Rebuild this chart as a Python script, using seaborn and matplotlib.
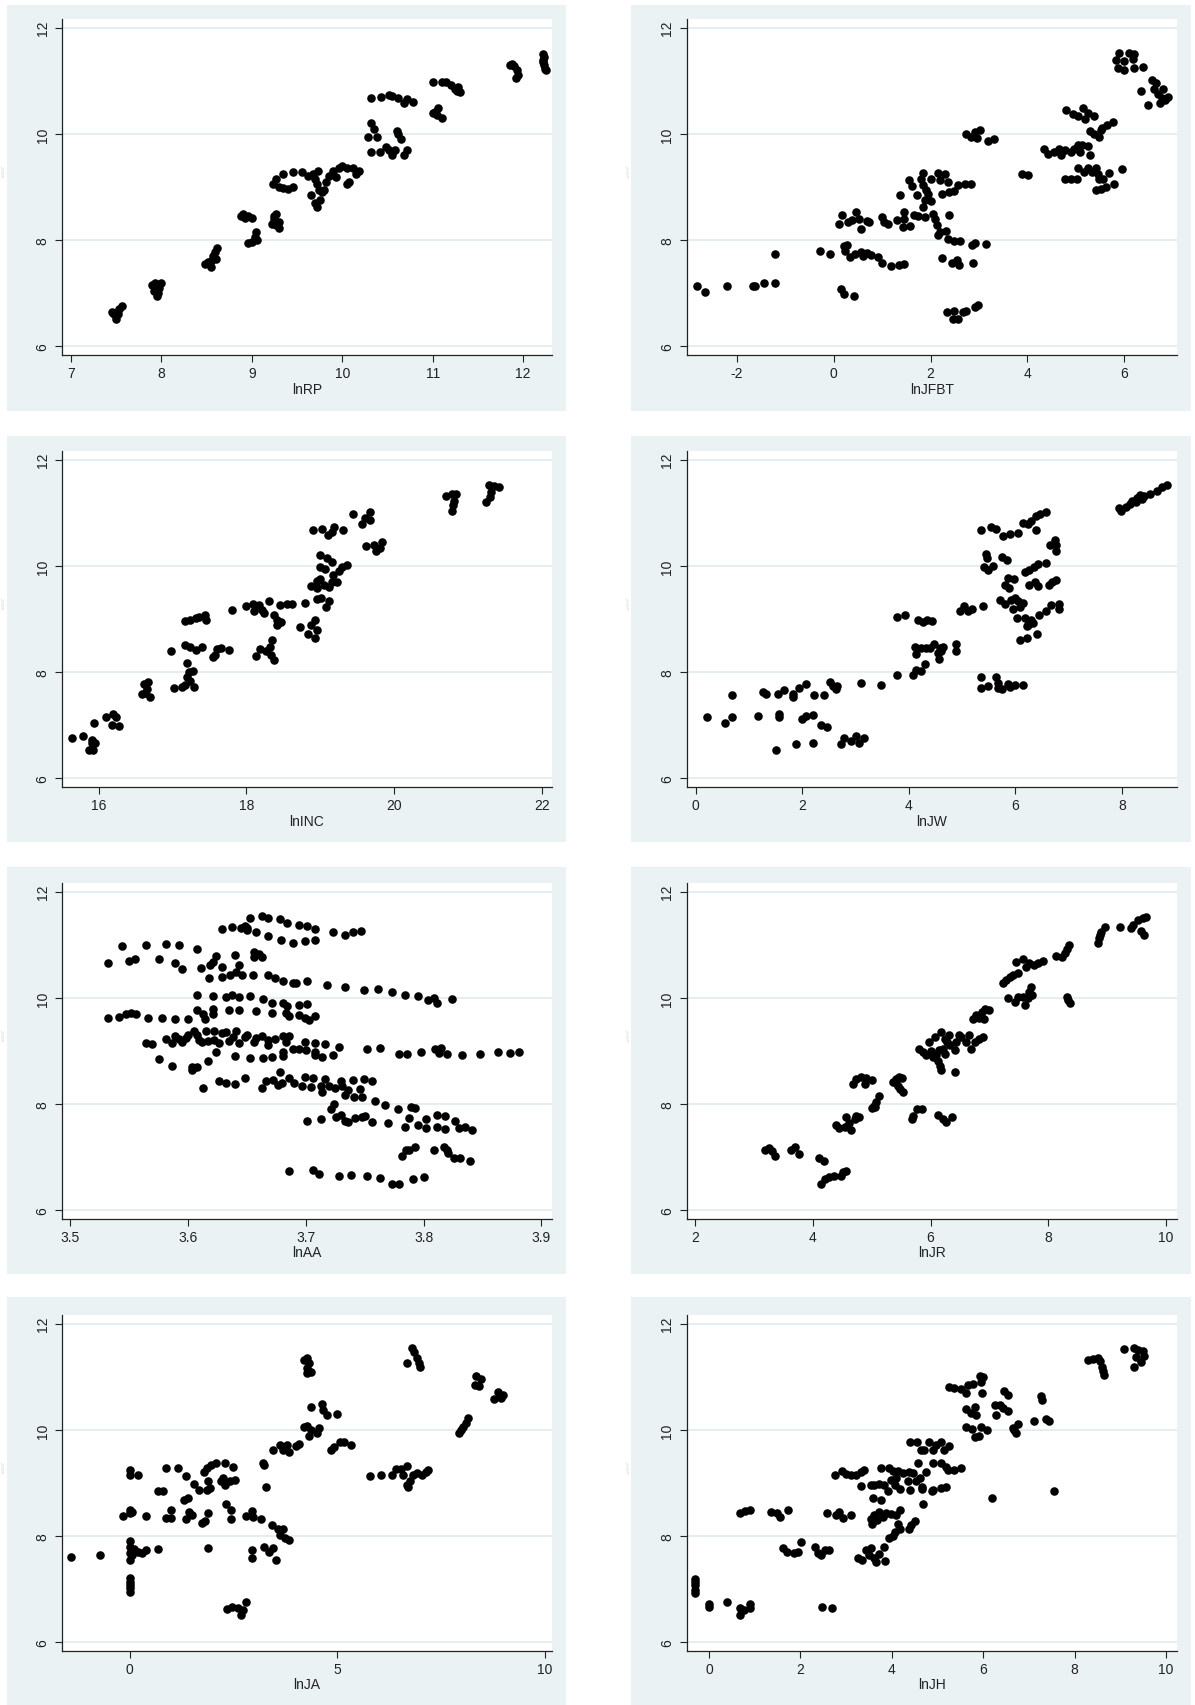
import matplotlib
matplotlib.use("Agg")
import matplotlib.pyplot as plt
from matplotlib.patches import Rectangle
import pandas as pd
import seaborn as sns

# ---------------------------------------------------------------------------
# Observations: (regressor, lnGDP) pairs for each of the eight panels
# ---------------------------------------------------------------------------
lnRP_pts = [
    (7.45, 6.65), (7.48, 6.60), (7.50, 6.52), (7.52, 6.60), (7.53, 6.70), (7.56, 6.75), (7.46, 6.63),
    (7.90, 7.15), (7.92, 7.05), (7.95, 6.95), (7.97, 7.10), (8.00, 7.20), (7.93, 7.20), (7.96, 7.00),
    (8.48, 7.55), (8.52, 7.58), (8.55, 7.60), (8.57, 7.70), (8.59, 7.78), (8.62, 7.85), (8.60, 7.65), (8.55, 7.50),
    (8.88, 8.45), (8.92, 8.42), (8.96, 8.45), (9.00, 8.42), (8.90, 8.50),
    (8.96, 7.95), (9.00, 7.97), (9.03, 8.05), (9.05, 8.15), (9.06, 8.00),
    (9.22, 8.30), (9.25, 8.40), (9.27, 8.50), (9.30, 8.35), (9.30, 8.22), (9.27, 8.28), (9.25, 8.45),
    (9.23, 9.05), (9.27, 9.15), (9.30, 9.00), (9.35, 8.98), (9.40, 8.97), (9.45, 9.00), (9.35, 9.25),
    (9.45, 9.28), (9.55, 9.28),
    (9.62, 9.20), (9.68, 9.25), (9.70, 9.15), (9.72, 9.05), (9.74, 8.95), (9.70, 8.70), (9.72, 8.62),
    (9.75, 8.75), (9.65, 8.85), (9.78, 8.90), (9.80, 8.95), (9.82, 9.10), (9.73, 9.30), (9.85, 9.20),
    (9.90, 9.30), (9.93, 9.18), (9.96, 9.35), (10.00, 9.40), (10.05, 9.35), (10.05, 9.05), (10.08, 9.10),
    (10.12, 9.35), (10.15, 9.25), (10.18, 9.30),
    (10.28, 9.95), (10.32, 10.20), (10.35, 10.10), (10.38, 9.95), (10.32, 9.65), (10.42, 9.65),
    (10.48, 9.75), (10.52, 9.70), (10.55, 9.60), (10.58, 9.70), (10.62, 10.00), (10.60, 10.05),
    (10.65, 9.90), (10.68, 9.60), (10.72, 9.70),
    (10.32, 10.67), (10.43, 10.70), (10.52, 10.73), (10.55, 10.72), (10.62, 10.68), (10.68, 10.58),
    (10.72, 10.65), (10.78, 10.60),
    (11.00, 10.40), (11.03, 10.42), (11.06, 10.48), (11.10, 10.30), (11.05, 10.35),
    (11.00, 10.97), (11.10, 10.98), (11.15, 10.98), (11.20, 10.92), (11.25, 10.85), (11.27, 10.80),
    (11.30, 10.78), (11.28, 10.88),
    (11.85, 11.30), (11.90, 11.28), (11.93, 11.20), (11.94, 11.10), (11.92, 11.05), (11.88, 11.32),
    (12.22, 11.50), (12.23, 11.45), (12.22, 11.35), (12.23, 11.30), (12.24, 11.22), (12.25, 11.20), (12.22, 11.40),
]

lnJFBT_pts = [
    (-2.82, 7.13), (-2.66, 7.02), (-2.21, 7.13), (-1.66, 7.13), (-1.62, 7.14), (-1.43, 7.19), (-1.21, 7.20),
    (-1.21, 7.74), (-0.29, 7.79), (-0.07, 7.73),
    (0.16, 7.08), (0.21, 6.99), (0.41, 6.94),
    (0.10, 8.31), (0.18, 8.47), (0.29, 8.35), (0.46, 8.52), (0.52, 8.40), (0.56, 8.21), (0.68, 8.36),
    (0.73, 8.35), (0.37, 8.37),
    (0.21, 7.88), (0.27, 7.91), (0.23, 7.79), (0.33, 7.68), (0.45, 7.73), (0.56, 7.77), (0.68, 7.75),
    (0.77, 7.71), (0.91, 7.69), (0.99, 7.57), (1.19, 7.52), (1.34, 7.54), (1.46, 7.55), (0.60, 7.70),
    (0.99, 8.43), (1.03, 8.35), (1.13, 8.31), (1.30, 8.37), (1.46, 8.53), (1.46, 8.40), (1.44, 8.25),
    (1.58, 8.26), (1.66, 8.47), (1.74, 8.45), (1.88, 8.43),
    (1.37, 8.84), (1.55, 9.14), (1.62, 9.01), (1.72, 8.84), (1.80, 9.16), (1.84, 9.26), (1.85, 9.03),
    (1.90, 8.94), (1.95, 8.87), (1.89, 8.75), (1.85, 8.62), (2.01, 8.73), (2.05, 8.50), (2.09, 8.39),
    (2.13, 8.28), (2.15, 8.09), (2.20, 8.15), (2.32, 8.17), (2.24, 8.87), (2.20, 9.14), (2.01, 9.16),
    (2.16, 9.27), (2.30, 9.24), (2.36, 9.09), (2.38, 8.90), (2.48, 8.92), (2.57, 9.03), (2.71, 9.05),
    (2.83, 9.06), (2.38, 8.47), (2.36, 8.03), (2.48, 7.99), (2.60, 7.99), (2.85, 7.91), (2.92, 7.94),
    (3.14, 7.93), (2.23, 7.66), (2.44, 7.57), (2.55, 7.62), (2.59, 7.54), (2.87, 7.57),
    (2.34, 6.64), (2.48, 6.67), (2.46, 6.52), (2.57, 6.52), (2.67, 6.64), (2.73, 6.67), (2.91, 6.74), (2.99, 6.77),
    (2.73, 9.99), (2.83, 9.94), (2.91, 10.04), (3.02, 10.07), (2.95, 9.92), (3.18, 9.86), (3.32, 9.90),
    (3.88, 9.24), (4.02, 9.22),
    (4.35, 9.71), (4.43, 9.63), (4.55, 9.65), (4.66, 9.72), (4.70, 9.61), (4.78, 9.69), (4.90, 9.65),
    (4.96, 9.71), (5.05, 9.79), (5.13, 9.79), (5.09, 9.66), (5.25, 9.77), (5.29, 9.60),
    (4.78, 9.16), (4.90, 9.16), (5.02, 9.16), (5.04, 9.36), (5.17, 9.28), (5.25, 9.36), (5.33, 9.28),
    (5.41, 9.36), (5.45, 9.25), (5.48, 9.16), (5.56, 9.16), (5.68, 9.27), (5.41, 8.94), (5.52, 8.96),
    (5.63, 9.00), (5.78, 9.06), (5.95, 9.33),
    (4.80, 10.45), (4.94, 10.38), (5.04, 10.34), (5.15, 10.49), (5.25, 10.40), (5.20, 10.29), (5.37, 10.33),
    (5.29, 10.05), (5.37, 9.99), (5.48, 9.94), (5.52, 10.07), (5.55, 10.11), (5.64, 10.16), (5.76, 10.23),
    (5.84, 11.39), (5.89, 11.53), (5.88, 11.25), (6.00, 11.37), (6.00, 11.20), (6.09, 11.52), (6.21, 11.50),
    (6.19, 11.41), (6.21, 11.25), (6.38, 11.26),
    (6.34, 10.80), (6.50, 10.55), (6.58, 11.01), (6.62, 10.85), (6.66, 10.96), (6.70, 10.76), (6.77, 10.67),
    (6.80, 10.85), (6.85, 10.64), (6.90, 10.69), (6.73, 10.59),
]

lnINC_pts = [
    (15.63, 6.76), (15.79, 6.79), (15.93, 7.04), (15.86, 6.53), (15.92, 6.53), (15.90, 6.67), (15.95, 6.67), (15.91, 6.73),
    (16.10, 7.15), (16.19, 7.21), (16.23, 7.15), (16.18, 7.01), (16.27, 6.98),
    (16.61, 7.78), (16.66, 7.81), (16.63, 7.61), (16.69, 7.54), (16.59, 7.58), (16.65, 7.69),
    (17.02, 7.70), (17.13, 7.71), (17.17, 7.76), (17.29, 7.71), (17.19, 7.90), (17.22, 8.01), (17.28, 8.03),
    (17.19, 8.17), (17.24, 7.84),
    (16.98, 8.39), (17.17, 8.51), (17.24, 8.48), (17.31, 8.42), (17.40, 8.47), (17.55, 8.28), (17.60, 8.44),
    (17.66, 8.45), (17.76, 8.41), (17.58, 8.33),
    (17.17, 8.96), (17.24, 8.98), (17.31, 9.01), (17.35, 9.04), (17.44, 9.08), (17.45, 8.98),
    (17.81, 9.17), (17.99, 9.24), (18.09, 9.28), (18.10, 9.15), (18.17, 9.26), (18.21, 9.17), (18.24, 9.11),
    (18.30, 9.33), (18.37, 9.08), (18.42, 8.98), (18.41, 8.89), (18.47, 8.95), (18.46, 9.26), (18.55, 9.28),
    (18.62, 9.28),
    (18.13, 8.31), (18.18, 8.44), (18.27, 8.39), (18.32, 8.48), (18.34, 8.61), (18.37, 8.23), (18.33, 8.33),
    (18.72, 8.85), (18.83, 8.72), (18.87, 8.89), (18.93, 8.98), (18.95, 8.79), (18.93, 8.65), (18.79, 9.31),
    (18.87, 9.63), (18.95, 9.71), (18.95, 9.37), (19.01, 9.39), (19.08, 9.23), (19.12, 9.33), (18.96, 9.58),
    (19.00, 9.76), (19.05, 9.64), (19.12, 9.61), (19.16, 9.70), (19.22, 9.70), (19.17, 9.83), (19.25, 9.90),
    (19.29, 9.98), (19.36, 10.02), (19.00, 9.98), (19.06, 9.95), (19.00, 10.21), (19.09, 10.15), (19.16, 10.08),
    (18.90, 10.67), (19.03, 10.70), (19.11, 10.58), (19.16, 10.63), (19.19, 10.73), (19.31, 10.68),
    (19.45, 10.97), (19.56, 10.79), (19.61, 10.90), (19.68, 11.01), (19.67, 10.86),
    (19.62, 10.38), (19.73, 10.40), (19.75, 10.29), (19.81, 10.33), (19.83, 10.45),
    (20.70, 11.31), (20.78, 11.36), (20.84, 11.36), (20.81, 11.23), (20.80, 11.14), (20.78, 11.03),
    (21.28, 11.53), (21.35, 11.51), (21.42, 11.49), (21.32, 11.39), (21.30, 11.29), (21.25, 11.20),
]

lnJW_pts = [
    (0.22, 7.15), (0.56, 7.04), (0.69, 7.15), (0.69, 7.56),
    (1.18, 7.18), (1.26, 7.63), (1.33, 7.58), (1.51, 6.53), (1.55, 7.59), (1.56, 7.21), (1.56, 7.16),
    (1.66, 7.67), (1.83, 7.58), (1.83, 7.53), (1.88, 6.64), (1.94, 7.70), (1.99, 7.11), (2.08, 7.78),
    (2.08, 7.17), (2.21, 7.20), (2.21, 6.66), (2.23, 7.56), (2.36, 7.01), (2.41, 7.56), (2.46, 6.96),
    (2.52, 7.81), (2.58, 7.73), (2.66, 7.74), (2.64, 7.69), (2.72, 6.64), (2.79, 6.76), (2.91, 6.70),
    (3.01, 6.79), (3.07, 6.67), (3.16, 6.75), (3.11, 7.79), (3.48, 7.75),
    (3.77, 7.94), (3.77, 9.04), (3.93, 9.08), (4.08, 7.94), (4.14, 8.04), (4.22, 8.03), (4.30, 8.16),
    (4.11, 8.48), (4.14, 8.34), (4.22, 8.45), (4.33, 8.46), (4.39, 8.45), (4.48, 8.53), (4.55, 8.36),
    (4.57, 8.25), (4.61, 8.39), (4.64, 8.48), (4.58, 8.46), (4.88, 8.53), (4.88, 8.39),
    (4.17, 8.99), (4.26, 8.95), (4.34, 8.98), (4.44, 8.97),
    (4.96, 9.16), (5.03, 9.24), (5.11, 9.16), (5.19, 9.19), (5.39, 9.25),
    (5.35, 10.67), (5.55, 10.74), (5.63, 10.70), (5.77, 10.56), (5.89, 10.61), (6.05, 10.62),
    (5.44, 10.23), (5.47, 10.15), (5.41, 9.98), (5.49, 9.93), (5.57, 10.00), (5.74, 10.17), (5.85, 10.12),
    (5.81, 9.64), (5.86, 9.78), (5.97, 9.76), (5.88, 9.59),
    (5.71, 9.36), (5.80, 9.29), (5.91, 9.36), (5.99, 9.39), (6.05, 9.33), (6.08, 9.23), (5.96, 9.19),
    (6.14, 9.31), (6.03, 9.01), (6.17, 9.01), (6.24, 8.89), (6.33, 8.92), (6.30, 8.98), (6.21, 8.86),
    (6.41, 8.72), (6.09, 8.61), (6.22, 8.65), (6.44, 9.08), (6.58, 9.15), (6.66, 9.26), (6.82, 9.28),
    (6.82, 9.19),
    (6.17, 9.89), (6.26, 9.93), (6.34, 9.98), (6.42, 10.04), (6.57, 10.06), (6.26, 9.64), (6.36, 9.69),
    (6.42, 9.63), (6.63, 9.64), (6.69, 9.70), (6.77, 9.73),
    (6.64, 10.40), (6.74, 10.48), (6.77, 10.39), (6.77, 10.29),
    (6.14, 10.81), (6.24, 10.78), (6.30, 10.84), (6.38, 10.94), (6.46, 10.98), (6.57, 11.01), (6.38, 10.67),
    (5.36, 7.90), (5.36, 7.70), (5.49, 7.73), (5.64, 7.91), (5.67, 7.79), (5.67, 7.70), (5.74, 7.69),
    (5.86, 7.78), (5.89, 7.71), (5.99, 7.75), (6.14, 7.76),
    (7.94, 11.09), (7.98, 11.03), (8.07, 11.11), (8.14, 11.17), (8.19, 11.23), (8.26, 11.20), (8.28, 11.28),
    (8.34, 11.34), (8.42, 11.32), (8.52, 11.36), (8.66, 11.42), (8.74, 11.48), (8.84, 11.53), (8.38, 11.26),
]

lnAA_pts = [
    (3.629, 11.30), (3.637, 11.34), (3.645, 11.31), (3.648, 11.36), (3.650, 11.32), (3.650, 11.28),
    (3.653, 11.51), (3.658, 11.25), (3.663, 11.54), (3.668, 11.50), (3.668, 11.16), (3.678, 11.48),
    (3.679, 11.09), (3.684, 11.42), (3.689, 11.03), (3.694, 11.37), (3.699, 11.08), (3.701, 11.36),
    (3.708, 11.30), (3.708, 11.09), (3.723, 11.25), (3.733, 11.19), (3.740, 11.25), (3.747, 11.26),
    (3.532, 10.66), (3.544, 10.97), (3.550, 10.70), (3.555, 10.74), (3.564, 10.99), (3.575, 10.73),
    (3.581, 11.01), (3.589, 10.66), (3.592, 10.99), (3.595, 10.55), (3.608, 10.92), (3.611, 10.57),
    (3.618, 10.38), (3.619, 10.62), (3.621, 10.68), (3.624, 10.79), (3.629, 10.40), (3.629, 10.59),
    (3.636, 10.44), (3.640, 10.81), (3.641, 10.49), (3.643, 10.62), (3.646, 10.44), (3.655, 10.44),
    (3.656, 10.86), (3.656, 10.77), (3.660, 10.82), (3.663, 10.77), (3.668, 10.44), (3.674, 10.38),
    (3.681, 10.31), (3.689, 10.28), (3.692, 10.29), (3.701, 10.31), (3.718, 10.24), (3.733, 10.20),
    (3.749, 10.15), (3.761, 10.17), (3.773, 10.11), (3.784, 10.06), (3.795, 10.03), (3.804, 9.96),
    (3.809, 9.99), (3.811, 9.91), (3.824, 9.97),
    (3.608, 10.05), (3.621, 10.03), (3.632, 10.02), (3.637, 10.06), (3.643, 10.01), (3.653, 10.03),
    (3.664, 9.98), (3.671, 9.91), (3.681, 9.90), (3.684, 9.85), (3.694, 9.87), (3.701, 9.89),
    (3.532, 9.63), (3.541, 9.64), (3.547, 9.70), (3.552, 9.72), (3.556, 9.69), (3.566, 9.63),
    (3.578, 9.62), (3.589, 9.61), (3.600, 9.60), (3.608, 9.77), (3.613, 9.69), (3.614, 9.61),
    (3.621, 9.79), (3.621, 9.70), (3.635, 9.77), (3.643, 9.77), (3.658, 9.76), (3.671, 9.72),
    (3.683, 9.72), (3.686, 9.66), (3.694, 9.67), (3.699, 9.63), (3.703, 9.59), (3.708, 9.66),
    (3.564, 9.16), (3.569, 9.14), (3.581, 9.23), (3.586, 9.15), (3.589, 9.28), (3.592, 9.23),
    (3.595, 9.17), (3.598, 9.25), (3.600, 9.31), (3.605, 9.37), (3.608, 9.31), (3.609, 9.20),
    (3.612, 9.17), (3.615, 9.38), (3.617, 9.19), (3.622, 9.38), (3.622, 9.20), (3.626, 9.16),
    (3.629, 9.33), (3.632, 9.35), (3.635, 9.18), (3.638, 9.26), (3.641, 9.37), (3.643, 9.16),
    (3.648, 9.26), (3.650, 9.31), (3.656, 9.17), (3.658, 9.25), (3.663, 9.28), (3.668, 9.20),
    (3.668, 9.11), (3.674, 9.23), (3.681, 9.28), (3.686, 9.29), (3.683, 9.17), (3.689, 9.03),
    (3.694, 9.03), (3.699, 9.17), (3.700, 9.01), (3.708, 9.15), (3.708, 8.99), (3.708, 8.92),
    (3.714, 8.89), (3.716, 9.14), (3.723, 8.93), (3.728, 9.08), (3.752, 9.04), (3.763, 9.06),
    (3.779, 8.95), (3.786, 8.95), (3.798, 8.98), (3.810, 9.03), (3.815, 9.06), (3.813, 8.97),
    (3.820, 8.95), (3.833, 8.93), (3.848, 8.95), (3.863, 8.98), (3.873, 8.97), (3.881, 8.98),
    (3.575, 8.84), (3.586, 8.71), (3.603, 8.64), (3.603, 8.70), (3.608, 8.70), (3.617, 8.82),
    (3.624, 8.98), (3.640, 8.90), (3.653, 8.86), (3.664, 8.87), (3.671, 8.89), (3.681, 8.90), (3.681, 8.99),
    (3.613, 8.30), (3.626, 8.43), (3.632, 8.40), (3.640, 8.38), (3.648, 8.50), (3.663, 8.30),
    (3.666, 8.43), (3.672, 8.46), (3.676, 8.36), (3.678, 8.60), (3.680, 8.39), (3.686, 8.50),
    (3.690, 8.39), (3.697, 8.34), (3.699, 8.51), (3.704, 8.32), (3.706, 8.50), (3.713, 8.35),
    (3.714, 8.23), (3.716, 8.48), (3.720, 8.34), (3.725, 8.31), (3.730, 8.43), (3.731, 8.34),
    (3.733, 8.18), (3.736, 8.26), (3.740, 8.45), (3.741, 8.14), (3.746, 8.29), (3.748, 8.13),
    (3.749, 8.48), (3.756, 8.43), (3.759, 8.06), (3.767, 7.99), (3.778, 7.91), (3.789, 7.94), (3.793, 7.92),
    (3.724, 8.01), (3.721, 7.90), (3.726, 7.75), (3.730, 7.80), (3.733, 7.69), (3.736, 7.66),
    (3.742, 7.74), (3.748, 7.75), (3.750, 7.77), (3.756, 7.66), (3.701, 7.68), (3.713, 7.72),
    (3.770, 7.65), (3.784, 7.57), (3.788, 7.74), (3.795, 7.61), (3.802, 7.55), (3.802, 7.72),
    (3.811, 7.79), (3.811, 7.57), (3.818, 7.77), (3.818, 7.53), (3.827, 7.68), (3.830, 7.55),
    (3.835, 7.57), (3.841, 7.52),
    (3.782, 7.02), (3.785, 7.13), (3.788, 7.14), (3.793, 7.19), (3.809, 7.13), (3.817, 7.20),
    (3.820, 7.13), (3.821, 7.08), (3.826, 6.98), (3.831, 6.98), (3.839, 6.92),
    (3.686, 6.74), (3.706, 6.76), (3.711, 6.69), (3.728, 6.64), (3.738, 6.67), (3.752, 6.64),
    (3.763, 6.60), (3.773, 6.50), (3.779, 6.50), (3.791, 6.59), (3.800, 6.62),
]

lnJR_pts = [
    (3.18, 7.14), (3.26, 7.17), (3.31, 7.11), (3.36, 7.02), (3.63, 7.14), (3.69, 7.19), (3.76, 7.06),
    (4.10, 6.99), (4.19, 6.93), (4.14, 6.50), (4.20, 6.59), (4.27, 6.62), (4.35, 6.64), (4.48, 6.65),
    (4.51, 6.72), (4.57, 6.74),
    (4.40, 7.61), (4.45, 7.55), (4.54, 7.57), (4.57, 7.75), (4.62, 7.64), (4.65, 7.52), (4.71, 7.71),
    (4.79, 7.75), (4.73, 7.77),
    (5.00, 7.93), (5.03, 7.97), (5.08, 8.04), (5.12, 8.16), (5.05, 7.94),
    (4.68, 8.38), (4.74, 8.48), (4.82, 8.51), (4.88, 8.38), (4.91, 8.49), (5.00, 8.46),
    (5.36, 8.42), (5.41, 8.48), (5.46, 8.51), (5.52, 8.50), (5.44, 8.35), (5.48, 8.28), (5.53, 8.23), (5.42, 8.40),
    (5.69, 7.71), (5.70, 7.77), (5.77, 7.90), (5.86, 7.90), (6.12, 7.79), (6.21, 7.71), (6.27, 7.66), (6.37, 7.75),
    (5.81, 9.04), (5.87, 8.98), (5.93, 8.92), (5.97, 9.17), (6.01, 9.00), (6.04, 8.89), (6.07, 9.26),
    (6.10, 8.92), (6.12, 8.82), (6.15, 9.01), (6.16, 8.72), (6.17, 8.65), (6.18, 9.36), (6.21, 9.04),
    (6.24, 9.23), (6.25, 8.95), (6.28, 9.17), (6.32, 9.30), (6.33, 9.11), (6.41, 9.01), (6.44, 9.17),
    (6.48, 9.30), (6.52, 9.26), (6.41, 8.60), (6.61, 9.17), (6.66, 9.31), (6.69, 9.04), (6.75, 9.17),
    (6.83, 9.22), (6.89, 9.26),
    (6.72, 9.61), (6.78, 9.67), (6.83, 9.62), (6.88, 9.74), (6.93, 9.79), (7.00, 9.77), (6.90, 9.60),
    (7.23, 10.28), (7.28, 10.33), (7.35, 10.40), (7.40, 10.43), (7.48, 10.46), (7.46, 10.68), (7.57, 10.74),
    (7.63, 10.58), (7.68, 10.65), (7.75, 10.62), (7.82, 10.65), (7.91, 10.69),
    (7.31, 9.99), (7.43, 9.92), (7.48, 10.02), (7.57, 10.02), (7.61, 9.86), (7.65, 9.99), (7.68, 10.11),
    (7.71, 10.21), (7.73, 10.05),
    (8.14, 10.79), (8.23, 10.77), (8.28, 10.84), (8.32, 10.93), (8.36, 10.99),
    (8.32, 10.02), (8.33, 9.96), (8.37, 9.91),
    (8.84, 11.03), (8.86, 11.12), (8.90, 11.25), (8.96, 11.34), (8.88, 11.18),
    (9.22, 11.33), (9.41, 11.32), (9.44, 11.37), (9.52, 11.47), (9.61, 11.51), (9.67, 11.53),
    (9.58, 11.26), (9.63, 11.19),
]

lnJA_pts = [
    (-1.42, 7.60), (-0.72, 7.65),
    (0.00, 7.03), (0.00, 6.95), (0.00, 7.14), (0.00, 7.21), (0.00, 7.08),
    (0.00, 7.91), (0.00, 7.80), (0.00, 7.69), (0.00, 7.55), (0.06, 7.64),
    (-0.15, 8.38), (0.00, 8.49), (0.06, 8.46), (0.00, 8.43),
    (0.00, 9.25), (0.00, 9.16), (0.20, 9.16),
    (0.20, 7.70), (0.39, 7.74), (0.11, 7.75), (0.30, 7.69),
    (0.39, 8.38), (0.67, 7.75), (0.69, 8.85), (0.81, 8.84), (0.88, 9.28), (1.16, 9.29),
    (0.88, 8.35), (0.99, 8.49), (0.99, 8.35),
    (1.30, 8.68), (1.41, 8.72), (1.36, 9.13), (1.36, 8.33), (1.44, 8.46), (1.50, 8.40), (1.55, 8.99),
    (1.67, 8.87), (1.74, 8.24), (1.78, 9.21), (1.82, 8.28), (1.85, 8.87), (1.89, 8.43), (1.89, 7.77),
    (1.94, 8.90), (1.89, 9.03), (1.87, 9.28), (1.96, 9.34), (2.08, 9.38), (2.19, 9.03), (2.24, 9.09),
    (2.29, 8.97), (2.29, 9.38), (2.33, 8.60), (2.41, 9.04), (2.43, 8.49), (2.43, 8.33), (2.48, 9.31),
    (2.54, 9.06),
    (2.35, 6.62), (2.47, 6.67), (2.61, 6.65), (2.69, 6.51), (2.73, 6.60), (2.81, 6.75),
    (2.81, 8.38), (2.94, 8.47), (2.98, 8.36), (2.94, 7.73), (2.94, 7.58), (3.17, 8.33), (3.21, 9.37),
    (3.24, 9.34), (3.29, 8.93), (3.24, 7.80), (3.35, 7.70), (3.43, 8.21), (3.46, 7.77), (3.52, 7.55),
    (3.56, 8.14), (3.61, 8.02), (3.68, 8.13), (3.74, 7.97), (3.83, 7.92),
    (3.46, 9.62), (3.61, 9.72), (3.68, 9.62), (3.80, 9.72), (3.83, 9.59), (4.00, 9.70), (4.07, 9.73),
    (4.19, 10.06), (4.28, 10.08), (4.32, 9.89), (4.37, 10.00), (4.51, 9.94), (4.56, 10.03),
    (4.37, 10.44), (4.63, 10.48), (4.65, 10.38), (4.74, 10.28), (5.00, 10.30),
    (4.19, 11.32), (4.28, 11.35), (4.32, 11.26), (4.28, 11.07), (4.37, 11.09), (4.26, 11.16),
    (4.85, 9.62), (4.91, 9.67), (5.06, 9.78), (5.15, 9.77), (5.34, 9.72),
    (5.78, 9.13), (6.04, 9.15), (6.31, 9.16), (6.41, 9.26), (6.53, 9.26), (6.59, 9.16), (6.69, 9.32),
    (6.67, 8.97), (6.70, 8.93), (6.76, 9.04), (6.82, 9.15), (6.91, 9.18), (7.05, 9.15), (7.13, 9.20),
    (7.19, 9.24),
    (6.69, 11.26), (6.81, 11.54), (6.85, 11.47), (6.92, 11.35), (6.96, 11.26), (7.00, 11.19),
    (7.94, 9.94), (7.98, 10.00), (8.03, 10.06), (8.09, 10.13), (8.15, 10.22),
    (8.35, 11.01), (8.40, 10.82), (8.31, 10.84), (8.46, 10.95),
    (8.77, 10.58), (8.86, 10.72), (8.91, 10.63), (9.00, 10.66), (8.95, 10.60),
]

lnJH_pts = [
    (-0.30, 7.20), (-0.30, 7.08), (-0.30, 6.98), (-0.30, 7.14), (-0.30, 6.92),
    (0.00, 6.73), (0.00, 6.67), (0.40, 6.76), (0.67, 6.64), (0.68, 6.51), (0.77, 6.60), (0.90, 6.73), (0.90, 6.64),
    (0.67, 8.44), (0.78, 8.47), (0.90, 8.50),
    (1.36, 8.46), (1.48, 8.43), (1.55, 8.36), (1.74, 8.49),
    (1.63, 7.77), (1.70, 7.70), (1.87, 7.69), (1.95, 7.70), (2.02, 7.89),
    (2.33, 7.80), (2.38, 7.69), (2.46, 7.65), (2.53, 7.74), (2.62, 7.74),
    (2.48, 6.67), (2.69, 6.64),
    (2.58, 8.43), (2.77, 8.40), (2.84, 8.46), (2.93, 8.35), (3.10, 8.40),
    (2.75, 9.16), (2.92, 9.23), (3.00, 9.17), (3.11, 9.15), (3.21, 9.15), (3.33, 9.21), (3.40, 9.25), (3.33, 8.95),
    (3.26, 7.59), (3.35, 7.55), (3.44, 7.74), (3.50, 7.64), (3.55, 7.78), (3.62, 7.58), (3.66, 7.52),
    (3.71, 7.67), (3.82, 7.80), (3.86, 7.53),
    (3.55, 8.96), (3.59, 8.71), (3.62, 8.96), (3.73, 8.99), (3.77, 8.68), (3.77, 9.28), (3.82, 8.96),
    (3.91, 8.85), (3.95, 9.28), (3.99, 9.06), (4.02, 9.22), (4.06, 8.96), (4.10, 9.09), (4.13, 9.23),
    (4.17, 8.89), (4.24, 9.18), (4.35, 9.03), (4.37, 9.21), (4.40, 8.87), (4.47, 9.18), (4.53, 9.03),
    (4.57, 9.37), (4.61, 9.09), (4.66, 8.89), (4.66, 8.93), (4.69, 8.60), (4.75, 9.21), (4.90, 8.87),
    (3.55, 8.33), (3.57, 8.22), (3.62, 8.40), (3.67, 8.30), (3.73, 8.46), (3.80, 8.36), (3.88, 8.43),
    (3.99, 8.41), (4.10, 8.40), (4.19, 8.50),
    (3.94, 7.96), (4.02, 8.01), (4.08, 8.08), (4.13, 8.22), (4.18, 8.14), (4.37, 8.14), (4.43, 8.21), (4.50, 8.28),
    (4.39, 9.78), (4.55, 9.78), (4.64, 9.62), (4.71, 9.62), (4.82, 9.77), (4.90, 9.62), (4.97, 9.72),
    (5.08, 9.77), (5.15, 9.62), (5.26, 9.70),
    (4.90, 9.37), (5.08, 9.37), (5.19, 9.31), (5.22, 9.25), (5.37, 9.25), (5.52, 9.29), (5.08, 8.91),
    (5.19, 8.93), (4.88, 8.85),
    (5.26, 10.80), (5.37, 10.79), (5.52, 10.77), (5.63, 10.69), (5.66, 10.84), (5.77, 10.86), (5.92, 11.01),
    (5.99, 10.99), (5.95, 10.91), (5.97, 10.69),
    (5.63, 10.39), (5.74, 10.31), (5.83, 10.44), (5.85, 10.28), (5.63, 10.06), (5.76, 10.01), (5.81, 9.87),
    (5.90, 9.89), (5.96, 10.06), (6.08, 10.00),
    (6.25, 10.47), (6.36, 10.46), (6.43, 10.42), (6.27, 10.28), (6.54, 10.35), (6.46, 10.74), (6.54, 10.65),
    (6.65, 10.03), (6.72, 9.94), (6.76, 10.11), (6.68, 10.00),
    (7.12, 10.17), (7.27, 10.63), (7.29, 10.57), (7.38, 10.21), (7.45, 10.16),
    (6.19, 8.72), (7.54, 8.85),
    (8.29, 11.32), (8.40, 11.33), (8.51, 11.35), (8.56, 11.29), (8.60, 11.19), (8.63, 11.10), (8.65, 11.04),
    (9.09, 11.52), (9.29, 11.54), (9.38, 11.51), (9.50, 11.48), (9.34, 11.38), (9.45, 11.28), (9.29, 11.19),
    (9.52, 11.40),
]

# Axis titles, ranges and tick marks of each panel (row-major order)
panel_names = ["lnRP", "lnJFBT", "lnINC", "lnJW", "lnAA", "lnJR", "lnJA", "lnJH"]
panel_points = [lnRP_pts, lnJFBT_pts, lnINC_pts, lnJW_pts, lnAA_pts, lnJR_pts, lnJA_pts, lnJH_pts]
panel_xlims = [(6.90, 12.32), (-3.03, 7.09), (15.50, 22.14), (-0.16, 9.03),
               (3.493, 3.909), (1.858, 10.19), (-1.63, 10.17), (-0.48, 10.24)]
panel_xticks = [
    [7, 8, 9, 10, 11, 12],
    [-2, 0, 2, 4, 6],
    [16, 18, 20, 22],
    [0, 2, 4, 6, 8],
    [3.5, 3.6, 3.7, 3.8, 3.9],
    [2, 4, 6, 8, 10],
    [0, 5, 10],
    [0, 2, 4, 6, 8, 10],
]
y_ticks = [6, 8, 10, 12]
y_name = "lnGDP"

# ---------------------------------------------------------------------------
# Figure layout (pixel geometry of a 1195 x 1706 canvas)
# ---------------------------------------------------------------------------
sns.set_style("white")
plt.rcParams["font.family"] = ["Liberation Sans", "DejaVu Sans"]

W, H = 1195, 1706
fig = plt.figure(figsize=(W / 100, H / 100), dpi=100)
fig.patch.set_facecolor("white")

BG = "#EAF2F3"
col_bg = [(7, 559), (631, 560)]            # (left, width) of panel backgrounds
row_bg = [(6, 406), (437, 406), (868, 407), (1298, 408)]  # (top, height)
col_ax = [62, 687]                         # plot-region left edges
row_ax = [20, 452, 884, 1316]              # plot-region top edges
AX_W, AX_H = 490, 336

for r in range(4):
    for c in range(2):
        bx, bw = col_bg[c]
        by, bh = row_bg[r]
        fig.add_artist(Rectangle((bx / W, 1 - (by + bh) / H), bw / W, bh / H,
                                 transform=fig.transFigure, facecolor=BG,
                                 edgecolor="none", zorder=0))

for i, (name, pts) in enumerate(zip(panel_names, panel_points)):
    r, c = divmod(i, 2)
    ax = fig.add_axes([col_ax[c] / W, 1 - (row_ax[r] + AX_H) / H, AX_W / W, AX_H / H])
    ax.set_facecolor("white")
    df = pd.DataFrame(pts, columns=[name, y_name])
    sns.scatterplot(data=df, x=name, y=y_name, ax=ax, color="black",
                    s=38, linewidth=0, zorder=3)

    ax.set_xlim(*panel_xlims[i])
    ax.set_ylim(5.836, 12.164)
    ax.set_xticks(panel_xticks[i])
    ax.set_yticks(y_ticks)
    ax.set_xticklabels([f"{t:g}" for t in panel_xticks[i]])
    ax.set_yticklabels([str(t) for t in y_ticks], rotation=90, va="center")

    ax.grid(False)
    for t in y_ticks:
        ax.axhline(t, color="#E4EEF0", lw=1.4, zorder=1)

    for side in ("top", "right"):
        ax.spines[side].set_visible(False)
    for side in ("left", "bottom"):
        ax.spines[side].set_color("#222222")
        ax.spines[side].set_linewidth(0.9)

    ax.tick_params(axis="both", direction="out", length=5, width=0.8,
                   color="#222222", labelsize=10, labelcolor="#222222",
                   left=True, bottom=True)
    ax.tick_params(axis="y", pad=4)
    ax.tick_params(axis="x", pad=3)

    ax.set_xlabel(name, fontsize=10, color="#222222", labelpad=1)
    ax.set_ylabel(y_name, fontsize=3, color="#C9D2D3")
    ax.yaxis.set_label_coords(-0.115, 0.55)

fig.savefig("out.png", dpi=100, facecolor="white")
